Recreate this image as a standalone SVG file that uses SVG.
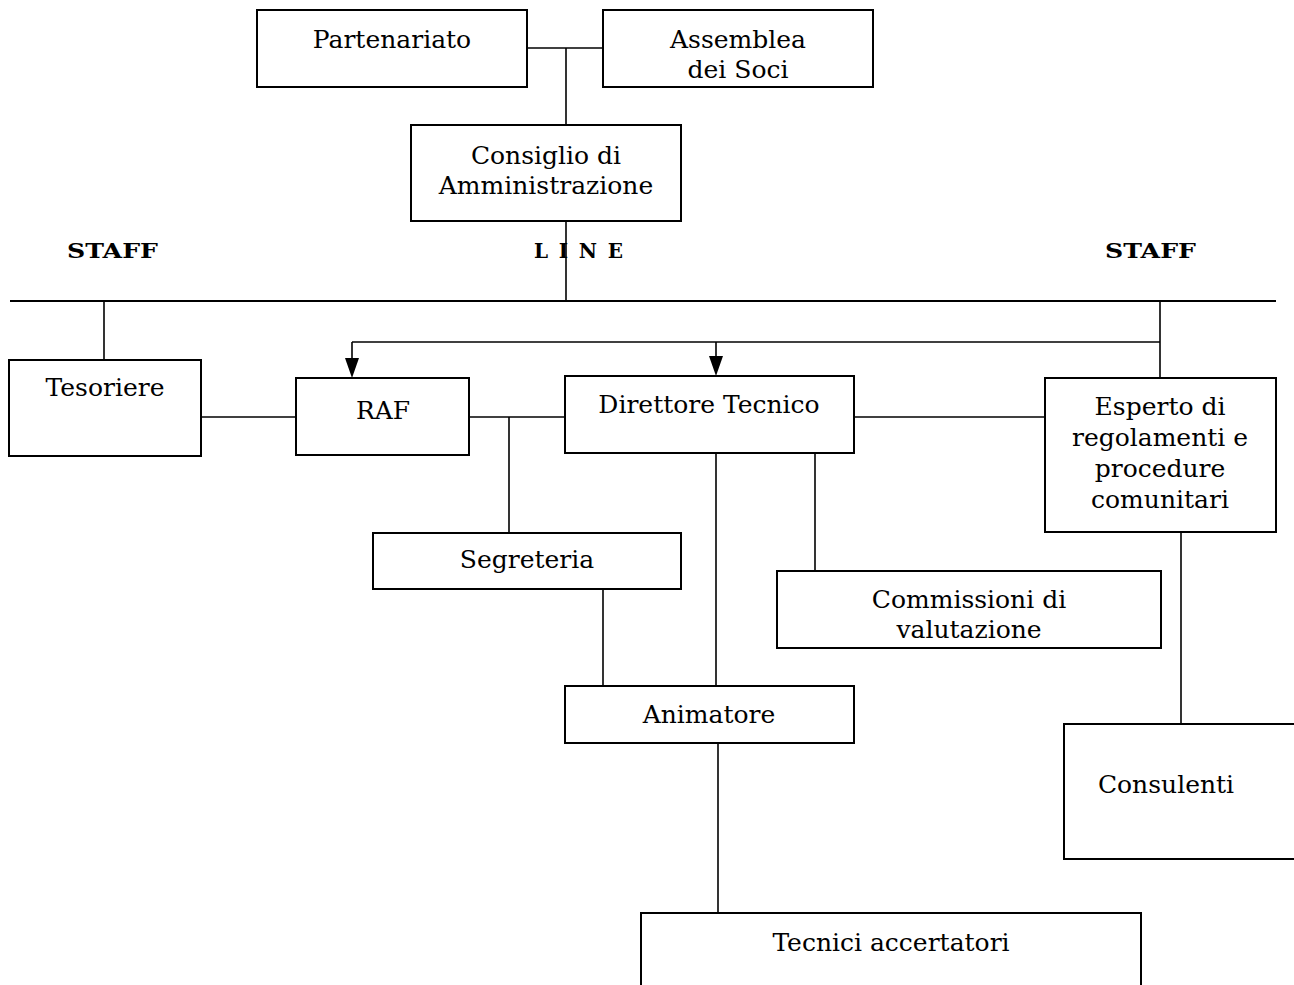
<svg xmlns="http://www.w3.org/2000/svg" width="1294" height="985" viewBox="0 0 1294 985">
<style>
.box{fill:#fff;stroke:#000;stroke-width:2}
.ln{fill:none;stroke:#000;stroke-width:1.6}
.t{font-family:"DejaVu Serif","Liberation Serif",serif;font-size:25px;fill:#000;text-anchor:middle}
.b{font-family:"DejaVu Serif","Liberation Serif",serif;font-size:20px;font-weight:bold;fill:#000}
</style>
<rect width="1294" height="985" fill="#fff"/>
<g id="connectors">
<line class="ln" x1="527" y1="48" x2="603" y2="48"/>
<line class="ln" x1="566" y1="48" x2="566" y2="125"/>
<line class="ln" x1="566" y1="221" x2="566" y2="301"/>
<line class="ln" x1="10" y1="301" x2="1276" y2="301" style="stroke-width:2"/>
<line class="ln" x1="104" y1="301" x2="104" y2="360"/>
<line class="ln" x1="1160" y1="301" x2="1160" y2="378"/>
<line class="ln" x1="352" y1="342" x2="1160" y2="342"/>
<line class="ln" x1="352" y1="342" x2="352" y2="358"/>
<path d="M345,358 L359,358 L352,378 Z" fill="#000"/>
<line class="ln" x1="716" y1="342" x2="716" y2="356"/>
<path d="M709,356 L723,356 L716,376 Z" fill="#000"/>
<line class="ln" x1="201" y1="417" x2="296" y2="417"/>
<line class="ln" x1="469" y1="417" x2="565" y2="417"/>
<line class="ln" x1="509" y1="417" x2="509" y2="533"/>
<line class="ln" x1="854" y1="417" x2="1045" y2="417"/>
<line class="ln" x1="1181" y1="532" x2="1181" y2="724"/>
<line class="ln" x1="716" y1="453" x2="716" y2="686"/>
<line class="ln" x1="815" y1="453" x2="815" y2="571"/>
<line class="ln" x1="603" y1="589" x2="603" y2="686"/>
<line class="ln" x1="718" y1="743" x2="718" y2="913"/>
</g>
<g id="labels">
<text class="b" x="67" y="258" textLength="91" lengthAdjust="spacingAndGlyphs">STAFF</text>
<text class="b" x="534" y="258" textLength="89" lengthAdjust="spacing">LINE</text>
<text class="b" x="1105" y="258" textLength="91" lengthAdjust="spacingAndGlyphs">STAFF</text>
</g>
<g id="partenariato">
<rect class="box" x="257" y="10" width="270" height="77"/>
<text class="t" x="392" y="48">Partenariato</text>
</g>
<g id="assemblea">
<rect class="box" x="603" y="10" width="270" height="77"/>
<text class="t" x="738" y="48">Assemblea</text>
<text class="t" x="738" y="78">dei Soci</text>
</g>
<g id="consiglio">
<rect class="box" x="411" y="125" width="270" height="96"/>
<text class="t" x="546" y="164">Consiglio di</text>
<text class="t" x="546" y="194">Amministrazione</text>
</g>
<g id="tesoriere">
<rect class="box" x="9" y="360" width="192" height="96"/>
<text class="t" x="105" y="396">Tesoriere</text>
</g>
<g id="raf">
<rect class="box" x="296" y="378" width="173" height="77"/>
<text class="t" x="383" y="419">RAF</text>
</g>
<g id="direttore">
<rect class="box" x="565" y="376" width="289" height="77"/>
<text class="t" x="709" y="413">Direttore Tecnico</text>
</g>
<g id="esperto">
<rect class="box" x="1045" y="378" width="231" height="154"/>
<text class="t" x="1160" y="415">Esperto di</text>
<text class="t" x="1160" y="446">regolamenti e</text>
<text class="t" x="1160" y="477">procedure</text>
<text class="t" x="1160" y="508">comunitari</text>
</g>
<g id="segreteria">
<rect class="box" x="373" y="533" width="308" height="56"/>
<text class="t" x="527" y="568">Segreteria</text>
</g>
<g id="commissioni">
<rect class="box" x="777" y="571" width="384" height="77"/>
<text class="t" x="969" y="608">Commissioni di</text>
<text class="t" x="969" y="638">valutazione</text>
</g>
<g id="animatore">
<rect class="box" x="565" y="686" width="289" height="57"/>
<text class="t" x="709" y="723">Animatore</text>
</g>
<g id="consulenti">
<rect class="box" x="1064" y="724" width="250" height="135"/>
<text class="t" x="1166" y="793">Consulenti</text>
</g>
<g id="tecnici">
<rect class="box" x="641" y="913" width="500" height="100"/>
<text class="t" x="891" y="951">Tecnici accertatori</text>
</g>
</svg>
